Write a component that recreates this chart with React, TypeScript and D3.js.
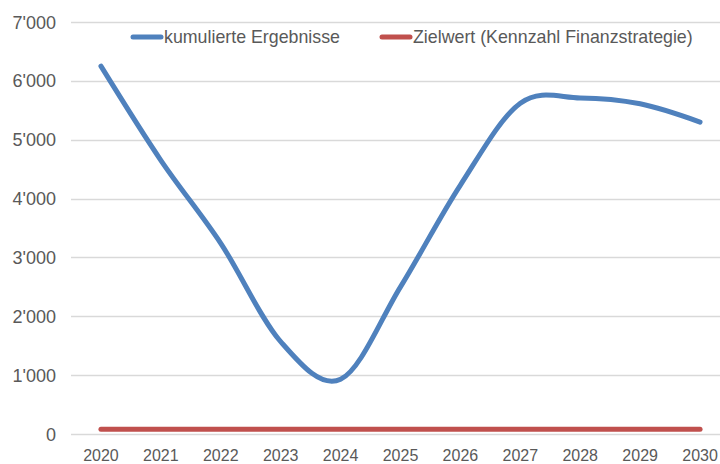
import React, { useEffect, useRef } from 'react';
import * as d3 from 'd3';

const years = ['2020', '2021', '2022', '2023', '2024', '2025', '2026', '2027', '2028', '2029', '2030'];
const cumulative = [6250, 4650, 3240, 1570, 930, 2500, 4230, 5620, 5710, 5610, 5300];
const target = [80, 80, 80, 80, 80, 80, 80, 80, 80, 80, 80];
const yTicks = [0, 1000, 2000, 3000, 4000, 5000, 6000, 7000];
const legendLabels = ['kumulierte Ergebnisse', 'Zielwert (Kennzahl Finanzstrategie)'];

const BLUE = '#4f81bd';
const RED = '#c0504d';
const TEXT = '#595959';
const GRID = '#d9d9d9';

export default function App() {
  const svgRef = useRef<SVGSVGElement>(null);

  useEffect(() => {
    document.body.style.margin = '0';
    const svg = d3.select(svgRef.current);
    svg.selectAll('*').remove();

    const width = 720;
    const height = 464;
    const font = 'Arial, "Liberation Sans", sans-serif';

    svg.attr('width', width).attr('height', height).style('display', 'block').style('background', '#fff');

    const x = d3.scaleBand<string>().domain(years).range([71, 730]).padding(0);
    const cx = (d: string) => (x(d) as number) + x.bandwidth() / 2;
    const y = d3.scaleLinear().domain([0, 7000]).range([434, 22]);

    const fmt = d3.formatLocale({ decimal: '.', thousands: "'", grouping: [3], currency: ['', ''] }).format(',');

    // Gitternetz
    svg.append('g')
      .selectAll('line')
      .data(yTicks)
      .enter()
      .append('line')
      .attr('x1', 71)
      .attr('x2', width)
      .attr('y1', d => Math.round(y(d)) + 0.5)
      .attr('y2', d => Math.round(y(d)) + 0.5)
      .attr('stroke', GRID)
      .attr('stroke-width', 1.3);

    // Y-Achse
    svg.append('g')
      .selectAll('text')
      .data(yTicks)
      .enter()
      .append('text')
      .attr('x', 56)
      .attr('y', d => y(d) + 6.5)
      .attr('text-anchor', 'end')
      .style('font-family', font)
      .style('font-size', '18px')
      .style('fill', TEXT)
      .text(d => fmt(d));

    // X-Achse
    svg.append('g')
      .selectAll('text')
      .data(years)
      .enter()
      .append('text')
      .attr('x', d => cx(d))
      .attr('y', 461)
      .attr('text-anchor', 'middle')
      .style('font-family', font)
      .style('font-size', '16px')
      .style('fill', TEXT)
      .text(d => d);

    const line = d3
      .line<number>()
      .x((_, i) => cx(years[i]))
      .y(d => y(d))
      .curve(d3.curveCatmullRom.alpha(0));

    svg.append('path')
      .datum(target)
      .attr('d', line)
      .attr('fill', 'none')
      .attr('stroke', RED)
      .attr('stroke-width', 5)
      .attr('stroke-linecap', 'round');

    svg.append('path')
      .datum(cumulative)
      .attr('d', line)
      .attr('fill', 'none')
      .attr('stroke', BLUE)
      .attr('stroke-width', 5)
      .attr('stroke-linecap', 'round')
      .attr('stroke-linejoin', 'round');

    // Legende
    const legend = [
      { label: legendLabels[0], color: BLUE, x: 131 },
      { label: legendLabels[1], color: RED, x: 380 },
    ];
    const lg = svg.append('g').selectAll('g').data(legend).enter().append('g');
    lg.append('line')
      .attr('x1', d => d.x + 2)
      .attr('x2', d => d.x + 30)
      .attr('y1', 37)
      .attr('y2', 37)
      .attr('stroke', d => d.color)
      .attr('stroke-width', 5)
      .attr('stroke-linecap', 'round');
    lg.append('text')
      .attr('x', d => d.x + 33)
      .attr('y', 43)
      .style('font-family', font)
      .style('font-size', '17.8px')
      .style('fill', TEXT)
      .text(d => d.label);
  }, []);

  return <svg ref={svgRef}></svg>;
}
